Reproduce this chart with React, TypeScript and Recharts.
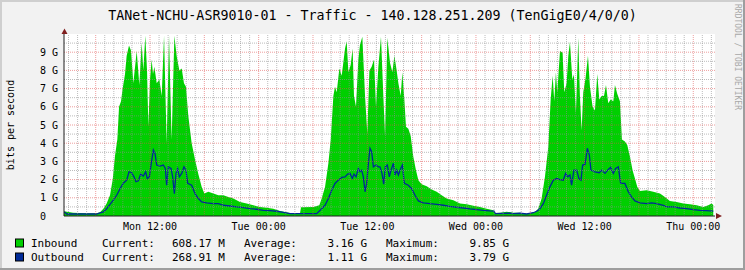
import React from 'react';
import { ComposedChart, Area, Line, XAxis, YAxis, CartesianGrid, ReferenceLine } from 'recharts';

const FONT = '"DejaVu Sans Mono", monospace';

// Time axis in hours since Mon 00:00
const inboundHours = [
  2.5, 3.5, 5.0, 6.1, 6.48, 6.85, 7.21, 7.58, 7.88, 8.13, 8.39, 8.58, 8.8, 8.98, 9.24, 9.42, 9.68, 9.9,
  10.16, 10.53, 10.82, 11.08, 11.26, 11.48, 11.67, 11.82, 12.0, 12.18, 12.33, 12.48, 12.74, 13.03, 13.29,
  13.55, 13.69, 13.84, 14.1, 14.24, 14.39, 14.69, 14.94, 15.24, 15.5, 15.75, 15.97, 16.23, 16.6, 16.97,
  17.34, 17.71, 18.0, 18.44, 19.0, 19.55, 20.1, 20.65, 21.2, 21.94, 22.67, 23.41, 24.15, 24.88, 25.62,
  26.36, 27.46, 28.57, 28.68, 30.04, 30.7, 30.96, 31.33, 31.7, 31.96, 32.25, 32.43, 32.62, 32.91, 33.17,
  33.54, 33.72, 33.91, 34.16, 34.38, 34.53, 34.75, 35.01, 35.19, 35.45, 35.75, 36.0, 36.23, 36.48, 36.74,
  36.96, 37.22, 37.51, 37.77, 37.96, 38.21, 38.51, 38.77, 38.99, 39.24, 39.43, 39.69, 39.87, 40.09, 40.27,
  40.53, 40.79, 41.08, 41.38, 41.64, 42.0, 42.56, 43.11, 43.66, 44.21, 44.77, 45.5, 46.24, 46.97, 47.71,
  48.45, 49.18, 49.92, 50.1, 50.66, 51.39, 52.12, 52.86, 53.6, 54.15, 54.52, 54.88, 55.25, 55.62, 55.99,
  56.25, 56.47, 56.65, 56.83, 56.98, 57.28, 57.57, 57.75, 58.01, 58.2, 58.38, 58.64, 58.82, 59.04, 59.3,
  59.48, 59.67, 59.85, 60.11, 60.37, 60.59, 60.88, 61.14, 61.4, 61.62, 61.88, 62.14, 62.36, 62.61, 62.87,
  63.17, 63.35, 63.61, 63.9, 64.12, 64.45, 64.71, 65.01, 65.3, 65.56, 65.82, 66.11, 66.85, 67.58, 68.32,
  68.87, 69.42, 70.16, 70.9, 71.63, 72.37, 73.11, 73.66, 74.03, 74.21,
];
// Inbound traffic, Gbit/s
const inboundGbps = [
  0.26, 0.18, 0.15, 0.15, 0.2, 0.4, 0.68, 1.14, 2.0, 3.3, 4.2, 6.0, 6.3, 7.0, 7.8, 8.8, 9.37, 9.1,
  7.3, 9.06, 7.2, 9.5, 8.0, 9.9, 8.0, 4.9, 7.5, 8.6, 7.8, 8.2, 7.3, 7.5, 6.6,
  9.9, 7.0, 4.0, 9.9, 7.0, 4.2, 9.9, 8.8, 8.0, 8.1, 7.3, 7.1, 5.5, 4.0, 3.1,
  2.3, 1.6, 1.23, 1.33, 1.23, 1.14, 1.14, 1.05, 0.96, 0.77, 0.68, 0.59, 0.5, 0.46, 0.4,
  0.28, 0.17, 0.17, 0.48, 0.5, 0.59, 0.96, 1.6, 2.9, 4.2, 6.6, 7.1, 6.8, 8.1, 7.7,
  9.2, 9.6, 7.9, 8.3, 9.2, 6.6, 6.0, 8.6, 9.4, 9.85, 6.6, 4.5, 8.0, 8.2, 8.6,
  6.0, 8.2, 9.85, 6.6, 4.4, 9.8, 8.4, 7.9, 8.8, 8.0, 7.3, 6.6, 7.9, 6.4, 4.9,
  4.8, 4.4, 3.26, 2.5, 1.97, 1.75, 1.64, 1.45, 1.33, 1.14, 0.96, 0.87, 0.68, 0.64, 0.57,
  0.5, 0.4, 0.31, 0.17, 0.18, 0.24, 0.18, 0.18, 0.13, 0.17, 0.22, 0.4, 0.96, 2.15, 3.8,
  6.4, 7.7, 6.3, 7.9, 6.8, 9.06, 8.97, 6.8, 7.3, 8.8, 9.56, 7.5, 7.77, 5.65, 9.8,
  6.6, 4.7, 6.8, 7.6, 8.8, 7.1, 6.0, 5.8, 7.8, 6.4, 6.6, 6.6, 7.2, 6.2, 6.4,
  6.3, 7.2, 6.7, 6.3, 4.2, 4.1, 3.9, 3.26, 2.5, 2.06, 1.6, 1.38, 1.42, 1.33, 1.23,
  1.05, 0.83, 0.77, 0.68, 0.64, 0.59, 0.5, 0.59, 0.68, 0.6,
];

const outboundHours = [
  2.5, 2.61, 2.8, 6.11, 6.48, 6.85, 7.21, 7.58, 7.95, 8.32, 8.69, 9.05, 9.42, 9.68, 9.97, 10.23, 10.45,
  10.71, 10.97, 11.26, 11.52, 11.7, 11.93, 12.11, 12.37, 12.55, 12.74, 13.1, 13.47, 13.69, 13.84, 14.02,
  14.32, 14.5, 14.69, 14.87, 15.05, 15.24, 15.5, 15.75, 15.97, 16.16, 16.6, 16.97, 17.34, 17.71, 18.26,
  19.0, 19.55, 20.1, 20.83, 21.57, 22.31, 23.04, 23.78, 24.52, 25.25, 25.99, 26.72, 27.46, 30.41, 30.59,
  30.96, 31.33, 31.7, 32.07, 32.43, 32.8, 33.17, 33.54, 33.83, 34.09, 34.35, 34.53, 34.75, 35.01, 35.19,
  35.38, 35.56, 35.75, 35.93, 36.12, 36.3, 36.48, 36.67, 36.96, 37.22, 37.4, 37.62, 37.81, 37.99, 38.21,
  38.43, 38.62, 38.88, 39.06, 39.24, 39.43, 39.69, 39.87, 40.09, 40.53, 40.9, 41.27, 41.64, 42.19, 42.93,
  43.66, 44.4, 45.13, 45.87, 46.61, 47.34, 48.08, 48.81, 49.55, 50.0, 50.14, 51.76, 52.12, 52.86, 53.6,
  54.33, 54.7, 55.07, 55.44, 55.8, 56.17, 56.54, 56.91, 57.28, 57.64, 57.9, 58.12, 58.38, 58.56, 58.82,
  59.12, 59.37, 59.6, 59.78, 60.04, 60.3, 60.52, 60.7, 61.14, 61.62, 61.88, 62.25, 62.61, 62.87, 63.17,
  63.42, 63.72, 63.98, 64.45, 64.82, 65.19, 65.56, 66.11, 66.85, 67.4, 67.95, 68.69, 69.06, 69.79, 70.53,
  71.27, 72.0, 72.74, 73.47, 74.21,
];
// Outbound traffic, Gbit/s
const outboundGbps = [
  0.2, 0.2, 0.11, 0.11, 0.17, 0.22, 0.4, 0.64, 0.87, 1.14, 1.5, 1.8, 1.97, 2.43, 2.38, 2.15, 1.88,
  1.93, 2.3, 2.19, 2.43, 2.06, 2.15, 2.8, 3.63, 3.44, 2.8, 2.74, 2.8, 2.61, 1.69, 2.7,
  2.61, 2.15, 1.23, 2.34, 2.61, 2.15, 2.34, 2.7, 2.52, 1.79, 1.69, 1.23, 0.96, 0.77, 0.72,
  0.68, 0.68, 0.59, 0.55, 0.5, 0.46, 0.4, 0.37, 0.31, 0.29, 0.26, 0.2, 0.13, 0.13, 0.22,
  0.4, 0.59, 0.96, 1.42, 1.79, 1.97, 2.12, 2.15, 2.3, 2.34, 2.06, 2.3, 2.15, 2.61, 2.43,
  2.52, 2.15, 1.33, 1.79, 2.9, 3.72, 3.54, 2.7, 2.8, 2.7, 2.7, 2.34, 1.75, 2.7, 2.8,
  2.15, 2.52, 2.9, 2.25, 2.52, 2.25, 2.61, 2.8, 1.79, 1.69, 1.5, 1.14, 0.83, 0.72, 0.68,
  0.64, 0.59, 0.53, 0.48, 0.44, 0.39, 0.35, 0.31, 0.28, 0.27, 0.13, 0.15, 0.13, 0.15, 0.11,
  0.18, 0.26, 0.4, 0.68, 1.14, 1.6, 1.97, 2.06, 2.0, 1.97, 2.34, 2.15, 2.25, 1.69, 2.52,
  2.52, 2.06, 1.97, 2.8, 2.83, 3.72, 3.35, 2.52, 2.43, 2.38, 2.52, 2.34, 2.56, 2.67, 2.34,
  2.61, 2.7, 1.79, 1.79, 1.33, 1.05, 0.83, 0.72, 0.68, 0.72, 0.68, 0.59, 0.5, 0.5, 0.44,
  0.4, 0.35, 0.31, 0.29, 0.27,
];

const xTickHours = [12, 24, 36, 48, 60, 72];
const xTickLabels = ['Mon 12:00', 'Tue 00:00', 'Tue 12:00', 'Wed 00:00', 'Wed 12:00', 'Thu 00:00'];
const yTickValues = [0, 1, 2, 3, 4, 5, 6, 7, 8, 9];
const yTickLabels = ['0', '1 G', '2 G', '3 G', '4 G', '5 G', '6 G', '7 G', '8 G', '9 G'];

const seriesNames = ['Inbound', 'Outbound'];
const seriesColors = ['#00CF00', '#002A97'];
const legendCurrent = ['608.17 M', '268.91 M'];
const legendAverage = ['3.16 G', '1.11 G'];
const legendMaximum = ['9.85 G', '3.79 G'];

const TITLE = 'TANet-NCHU-ASR9010-01 - Traffic - 140.128.251.209 (TenGigE0/4/0/0)';

const XTick = (props: any) => {
  const { x, y, payload } = props;
  const idx = xTickHours.indexOf(payload.value);
  return (
    <text x={x} y={y + 13.5} textAnchor="middle" fontFamily={FONT} fontSize={10} fill="#000">
      {idx >= 0 ? xTickLabels[idx] : ''}
    </text>
  );
};

const YTick = (props: any) => {
  const { y, payload } = props;
  const idx = yTickValues.indexOf(payload.value);
  return (
    <text x={40} y={y + 3.5} textAnchor="start" fontFamily={FONT} fontSize={10} fill="#000">
      {idx >= 0 ? yTickLabels[idx] : ''}
    </text>
  );
};

export default function App() {
  const inData = inboundHours.map((h, i) => ({ h, v: inboundGbps[i] }));
  const outData = outboundHours.map((h, i) => ({ h, v: outboundGbps[i] }));

  const minorX: number[] = [];
  const majorX: number[] = [];
  for (let h = 3; h <= 74; h++) {
    if (h % 6 === 0) majorX.push(h);
    else minorX.push(h);
  }
  const minorY: number[] = [];
  const majorY: number[] = [];
  for (let k = 1; k <= 19; k++) {
    const v = k / 2;
    if (k % 2 === 0) majorY.push(v);
    else minorY.push(v);
  }

  const gridMinor = 'rgba(143,143,143,0.6)';
  const gridMajor = 'rgba(222,79,79,0.55)';

  return (
    <div style={{ position: 'absolute', left: 0, top: 0, width: 745, height: 270, background: '#f2f2f2', overflow: 'hidden' }}>
      <div style={{ position: 'absolute', left: 0, top: 0 }}>
        <ComposedChart width={745} height={270} margin={{ top: 34, right: 30, bottom: 40, left: 0 }}>
          <CartesianGrid fill="#ffffff" horizontal={false} vertical={false} />
          <XAxis
            type="number"
            dataKey="h"
            domain={[2.5, 74.4]}
            ticks={xTickHours}
            interval={0}
            allowDataOverflow
            height={14}
            tick={XTick}
            tickLine={false}
            tickSize={0}
            tickMargin={0}
            axisLine={{ stroke: '#1f1f1f' }}
          />
          <YAxis
            type="number"
            domain={[0, 10]}
            ticks={yTickValues}
            interval={0}
            allowDataOverflow
            width={64}
            tick={YTick}
            tickLine={false}
            tickSize={0}
            tickMargin={0}
            axisLine={{ stroke: '#1f1f1f' }}
          />
          <Area
            data={inData}
            dataKey="v"
            type="linear"
            stroke="none"
            fill="#00CF00"
            fillOpacity={1}
            dot={false}
            activeDot={false}
            isAnimationActive={false}
          />
          <Line
            data={outData}
            dataKey="v"
            type="linear"
            stroke="#002A97"
            strokeWidth={1.3}
            dot={false}
            activeDot={false}
            isAnimationActive={false}
          />
          {minorY.map((v) => (
            <ReferenceLine key={'my' + v} y={v} stroke={gridMinor} strokeDasharray="1 1" strokeWidth={1} />
          ))}
          {minorX.map((h) => (
            <ReferenceLine key={'mx' + h} x={h} stroke={gridMinor} strokeDasharray="1 1" strokeWidth={1} />
          ))}
          {majorY.map((v) => (
            <ReferenceLine key={'My' + v} y={v} stroke={gridMajor} strokeDasharray="1 1" strokeWidth={1} />
          ))}
          {majorX.map((h) => (
            <ReferenceLine key={'Mx' + h} x={h} stroke={gridMajor} strokeDasharray="1 1" strokeWidth={1} />
          ))}
        </ComposedChart>
      </div>
      <svg
        width={745}
        height={270}
        style={{ position: 'absolute', left: 0, top: 0, pointerEvents: 'none' }}
      >
        {/* frame shading */}
        <rect x={0} y={0} width={745} height={2} fill="#cfcfcf" />
        <rect x={0} y={0} width={2} height={270} fill="#cfcfcf" />
        <rect x={0} y={268} width={745} height={2} fill="#9e9e9e" />
        <rect x={743} y={0} width={2} height={270} fill="#9e9e9e" />
        {/* title */}
        <text x={372.5} y={20} textAnchor="middle" fontFamily={FONT} fontSize={13.3} fill="#000">
          {TITLE}
        </text>
        {/* vertical axis label */}
        <text
          x={0}
          y={0}
          transform="translate(14,125) rotate(-90)"
          textAnchor="middle"
          fontFamily={FONT}
          fontSize={10}
          fill="#000"
        >
          bits per second
        </text>
        {/* watermark */}
        <text
          x={0}
          y={0}
          transform="translate(735,57) rotate(90)"
          textAnchor="middle"
          fontFamily={FONT}
          fontSize={8}
          fill="#a8a8a8"
        >
          RRDTOOL / TOBI OETIKER
        </text>
        {/* axis arrows */}
        <polygon points="61.5,34 67.5,34 64.5,28.5" fill="#801f1f" />
        <polygon points="716,213 722,216 716,219" fill="#801f1f" />
        {/* legend */}
        {seriesNames.map((name, i) => {
          const base = 246.5 + i * 14;
          return (
            <g key={name}>
              <rect x={15.5} y={base - 7.5} width={8} height={8} fill={seriesColors[i]} stroke="#000" strokeWidth={1} />
              <text x={31} y={base} fontFamily={FONT} fontSize={11} fill="#000">{name}</text>
              <text x={102} y={base} fontFamily={FONT} fontSize={11} fill="#000">Current:</text>
              <text x={172} y={base} fontFamily={FONT} fontSize={11} fill="#000">{legendCurrent[i]}</text>
              <text x={244} y={base} fontFamily={FONT} fontSize={11} fill="#000">Average:</text>
              <text x={327.5} y={base} fontFamily={FONT} fontSize={11} fill="#000">{legendAverage[i]}</text>
              <text x={386} y={base} fontFamily={FONT} fontSize={11} fill="#000">Maximum:</text>
              <text x={469.5} y={base} fontFamily={FONT} fontSize={11} fill="#000">{legendMaximum[i]}</text>
            </g>
          );
        })}
      </svg>
    </div>
  );
}
